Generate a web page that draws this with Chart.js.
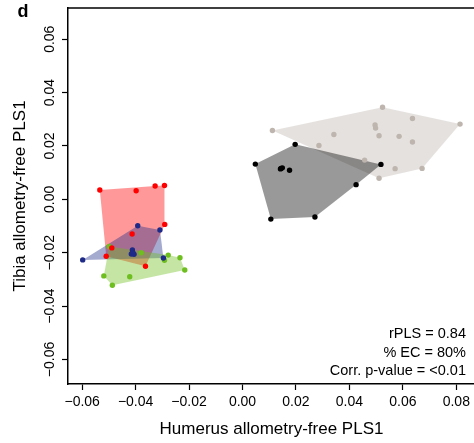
<!DOCTYPE html>
<html>
<head>
<meta charset="utf-8">
<script src="https://cdn.jsdelivr.net/npm/chart.js@4.4.1/dist/chart.umd.min.js"></script>
<style>
  html, body { margin: 0; padding: 0; background: #fff; overflow: hidden; }
  #wrap { width: 480px; height: 443px; }
</style>
</head>
<body>
<div id="wrap"><canvas id="chart" width="480" height="443"></canvas></div>
<script>
// values (PLS1 scores per group)
const redX = [-0.0534, -0.0398, -0.0327, -0.0292, -0.0291, -0.0413, -0.0489, -0.0510, -0.0363];
const redY = [0.0035, 0.0032, 0.0050, 0.0052, -0.0094, -0.0130, -0.0182, -0.0213, -0.0251];

const blueX = [-0.0598, -0.0392, -0.0309, -0.0412, -0.0416, -0.0406, -0.0410, -0.0296];
const blueY = [-0.0227, -0.0099, -0.0115, -0.0190, -0.0205, -0.0206, -0.0200, -0.0220];

const greenX = [-0.0499, -0.0379, -0.0278, -0.0292, -0.0234, -0.0216, -0.0519, -0.0422, -0.0487];
const greenY = [-0.0177, -0.0200, -0.0209, -0.0228, -0.0219, -0.0265, -0.0287, -0.0290, -0.0322];

const blackX = [0.0197, 0.0048, 0.0144, 0.0149, 0.0142, 0.0176, 0.0518, 0.0425, 0.0271, 0.0106];
const blackY = [0.0206, 0.0132, 0.0116, 0.0118, 0.0114, 0.0109, 0.0131, 0.0055, -0.0066, -0.0074];

const greyX = [0.0112, 0.0524, 0.0636, 0.0814, 0.0496, 0.0498, 0.0342, 0.0511, 0.0586, 0.0636, 0.0286, 0.0457, 0.0571, 0.0672, 0.0511];
const greyY = [0.0258, 0.0345, 0.0303, 0.0282, 0.0279, 0.0267, 0.0243, 0.0238, 0.0236, 0.0215, 0.0202, 0.0147, 0.0115, 0.0116, 0.0079];

const xTicks = [-0.06, -0.04, -0.02, 0.00, 0.02, 0.04, 0.06, 0.08];
const yTicks = [-0.06, -0.04, -0.02, 0.00, 0.02, 0.04, 0.06];

const statLines = ['rPLS = 0.84', '% EC = 80%', 'Corr. p-value = <0.01'];

const FONT = '"Liberation Sans", Arial, Helvetica, sans-serif';

// groups drawn bottom to top for the hulls
const groups = [
    { x: greyX, y: greyY, color: '#bdb5ae', fill: 'rgba(189,181,174,0.4)' },
    { x: blackX, y: blackY, color: '#000000', fill: 'rgba(0,0,0,0.4)' },
    { x: redX, y: redY, color: '#ff0000', fill: 'rgba(255,0,0,0.4)' },
    { x: blueX, y: blueY, color: '#1e2a87', fill: 'rgba(30,42,135,0.4)' },
    { x: greenX, y: greenY, color: '#6dbe1e', fill: 'rgba(109,190,30,0.4)' }
];

function toPoints(xs, ys) {
    return xs.map((x, i) => ({ x: x, y: ys[i] }));
}

// monotone chain convex hull, returns closed ring
function hull(pts) {
    const p = pts.slice().sort((a, b) => a.x - b.x || a.y - b.y);
    const cross = (o, a, b) => (a.x - o.x) * (b.y - o.y) - (a.y - o.y) * (b.x - o.x);
    const lower = [];
    for (const q of p) {
        while (lower.length >= 2 && cross(lower[lower.length - 2], lower[lower.length - 1], q) <= 0) lower.pop();
        lower.push(q);
    }
    const upper = [];
    for (let i = p.length - 1; i >= 0; i--) {
        const q = p[i];
        while (upper.length >= 2 && cross(upper[upper.length - 2], upper[upper.length - 1], q) <= 0) upper.pop();
        upper.push(q);
    }
    upper.pop();
    lower.pop();
    const ring = lower.concat(upper);
    ring.push(ring[0]);
    return ring;
}

const datasets = [];
groups.forEach((g, i) => {
    datasets.push({
        type: 'line',
        data: hull(toPoints(g.x, g.y)),
        backgroundColor: g.fill,
        borderColor: 'rgba(0,0,0,0)',
        borderWidth: 0,
        pointRadius: 0,
        tension: 0,
        fill: 'shape',
        order: 20 - i
    });
});
groups.forEach((g) => {
    datasets.push({
        type: 'scatter',
        data: toPoints(g.x, g.y),
        backgroundColor: g.color,
        borderWidth: 0,
        pointRadius: 2.7,
        order: 1
    });
});

const fmt = (v) => Number(v).toFixed(2).replace('-', '\u2212');

// frame, panel letter and stats text
const extras = {
    id: 'extras',
    afterDraw(chart) {
        const ctx = chart.ctx;
        const a = chart.chartArea;
        ctx.save();
        ctx.strokeStyle = '#000';
        ctx.lineWidth = 1.5;
        ctx.beginPath();
        ctx.moveTo(a.left, a.top);
        ctx.lineTo(a.right, a.top);
        ctx.lineTo(a.right, a.bottom);
        ctx.stroke();

        ctx.fillStyle = '#000';
        ctx.font = 'bold 18px ' + FONT;
        ctx.textAlign = 'center';
        ctx.textBaseline = 'middle';
        ctx.fillText('d', 23, 12);

        ctx.font = '14.5px ' + FONT;
        ctx.textAlign = 'right';
        statLines.forEach((t, i) => {
            ctx.fillText(t, a.right - 9, a.bottom - 50 + i * 18.5);
        });
        ctx.restore();
    }
};

new Chart(document.getElementById('chart'), {
    type: 'scatter',
    data: { datasets: datasets },
    plugins: [extras],
    options: {
        responsive: false,
        animation: false,
        layout: { padding: { top: 8, right: 5, left: 0, bottom: 0 } },
        plugins: {
            legend: { display: false },
            tooltip: { enabled: false }
        },
        scales: {
            x: {
                type: 'linear',
                position: 'bottom',
                min: -0.0653,
                max: 0.0870,
                afterBuildTicks: (s) => { s.ticks = xTicks.map(v => ({ value: v })); },
                afterFit: (s) => { s.height = 59; },
                ticks: {
                    callback: fmt,
                    color: '#000',
                    font: { family: FONT, size: 14 },
                    padding: 4,
                    maxRotation: 0,
                    autoSkip: false
                },
                grid: { drawOnChartArea: false, drawTicks: true, tickLength: 6, tickColor: '#000', tickWidth: 1.2 },
                border: { display: true, color: '#000', width: 1.5 },
                title: {
                    display: true,
                    text: 'Humerus allometry-free PLS1',
                    color: '#000',
                    font: { family: FONT, size: 17 },
                    padding: { top: 0, bottom: 3 }
                }
            },
            y: {
                type: 'linear',
                position: 'left',
                min: -0.0692,
                max: 0.0717,
                afterBuildTicks: (s) => { s.ticks = yTicks.map(v => ({ value: v })); },
                afterFit: (s) => { s.width = 68; },
                ticks: {
                    callback: fmt,
                    color: '#000',
                    font: { family: FONT, size: 14 },
                    minRotation: 90,
                    maxRotation: 90,
                    crossAlign: 'center',
                    padding: -6,
                    autoSkip: false
                },
                grid: { drawOnChartArea: false, drawTicks: true, tickLength: 6, tickColor: '#000', tickWidth: 1.2 },
                border: { display: true, color: '#000', width: 1.5 },
                title: {
                    display: true,
                    text: 'Tibia allometry-free PLS1',
                    color: '#000',
                    font: { family: FONT, size: 17 },
                    padding: { top: 10, bottom: 0 }
                }
            }
        }
    }
});
</script>
</body>
</html>
